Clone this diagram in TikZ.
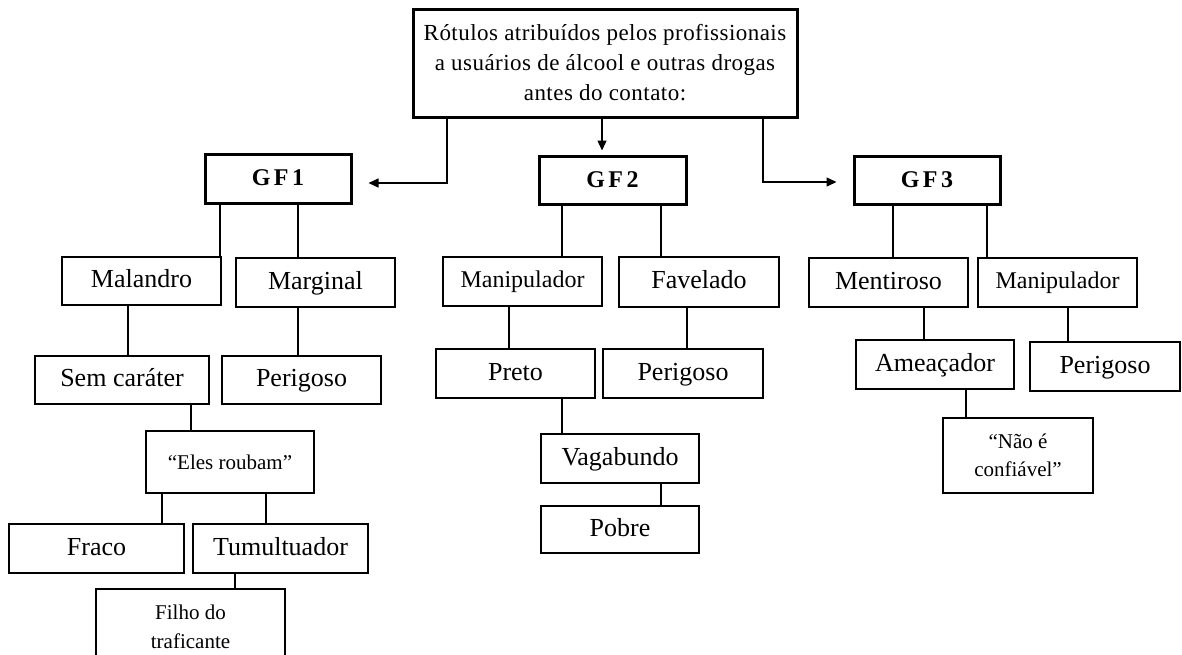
\documentclass[tikz,border=0pt]{standalone}
\usepackage{fontspec}
\setmainfont{Liberation Serif}
\newfontfamily\gffont[LetterSpace=14]{Liberation Serif}
\newfontfamily\ttlfont[LetterSpace=2]{Liberation Serif}
\usetikzlibrary{arrows.meta}
\begin{document}
\begin{tikzpicture}[x=1pt,y=-1pt,
  box/.style={draw, line width=1.2pt, inner sep=0pt, align=center, font=\fontsize{26}{28}\selectfont},
  one/.style={text height=18pt, text depth=4.5pt},
  thickbox/.style={box, line width=3pt},
  gf/.style={font=\gffont\bfseries\fontsize{24}{28}\selectfont, text height=16pt, text depth=2pt},
  small/.style={font=\fontsize{21}{29}\selectfont},
  mid/.style={font=\fontsize{24}{28}\selectfont, text height=16.5pt, text depth=4pt},
  con/.style={line width=1.3pt},
  arr/.style={con, -{Triangle[length=10pt,width=9pt]}}]
\useasboundingbox (0,0) rectangle (1182,654);

% top
\node[thickbox, minimum width=384pt, minimum height=108pt, font=\ttlfont\fontsize{23}{30}\selectfont] (top) at (605,63)
  {Rótulos atribuídos pelos profissionais\\a usuários de álcool e outras drogas\\antes do contato:};

% groups
\node[thickbox, gf, minimum width=146pt, minimum height=49pt] (gf1) at (278,178.5) {GF1};
\node[thickbox, gf, minimum width=147pt, minimum height=48pt] (gf2) at (612.5,180) {GF2};
\node[thickbox, gf, minimum width=146pt, minimum height=48pt] (gf3) at (927,180) {GF3};

% GF1 tree
\node[box, one, minimum width=159pt, minimum height=48pt] (mal) at (141.5,281) {Malandro};
\node[box, one, minimum width=159pt, minimum height=49pt] (mar) at (315.5,282.5) {Marginal};
\node[box, one, minimum width=174pt, minimum height=48pt] (sem) at (122,380) {Sem caráter};
\node[box, one, minimum width=159pt, minimum height=48pt] (per1) at (301.5,380) {Perigoso};
\node[box, small, minimum width=168pt, minimum height=62pt] (ele) at (230,462) {“Eles roubam”};
\node[box, one, minimum width=175pt, minimum height=49pt] (fra) at (96.5,548.5) {Fraco};
\node[box, one, minimum width=175pt, minimum height=49pt] (tum) at (280.5,548.5) {Tumultuador};
\node[box, small, minimum width=189pt, minimum height=76pt] (fil) at (190.5,627) {Filho do\\traficante};

% GF2 tree
\node[box, mid, minimum width=159pt, minimum height=49pt] (man2) at (522.5,281.5) {Manipulador};
\node[box, one, minimum width=160pt, minimum height=50pt] (fav) at (699,282) {Favelado};
\node[box, one, minimum width=159pt, minimum height=49pt] (pre) at (515.5,373.5) {Preto};
\node[box, one, minimum width=160pt, minimum height=49pt] (per2) at (683,373.5) {Perigoso};
\node[box, one, minimum width=158pt, minimum height=49pt] (vag) at (620,458.5) {Vagabundo};
\node[box, one, minimum width=158pt, minimum height=47pt] (pob) at (620,529.5) {Pobre};

% GF3 tree
\node[box, one, minimum width=159pt, minimum height=49pt] (men) at (888.5,282.5) {Mentiroso};
\node[box, mid, minimum width=159pt, minimum height=49pt] (man3) at (1057.5,282.5) {Manipulador};
\node[box, one, minimum width=158pt, minimum height=49pt] (ame) at (935,364.5) {Ameaçador};
\node[box, one, minimum width=150pt, minimum height=49pt] (per3) at (1105,366.5) {Perigoso};
\node[box, small, minimum width=150pt, minimum height=75pt, font=\fontsize{21}{28}\selectfont] (nao) at (1018,455.5) {“Não é\\confiável”};

% arrows from top
\draw[arr] (top.south -| 447,0) |- ([xshift=16pt,yshift=-4.5pt]gf1.east);
\draw[arr] (top.south -| 602,0) -- ([yshift=4pt]gf2.north -| 602,0);
\draw[arr] (top.south -| 763,0) |- ([xshift=-16pt,yshift=-2pt]gf3.west);

% GF1 connectors
\draw[con] (gf1.south -| 220,0) -- (mal.north -| 220,0);
\draw[con] (gf1.south -| 298,0) -- (mar.north -| 298,0);
\draw[con] (mal.south -| 128,0) -- (sem.north -| 128,0);
\draw[con] (mar.south -| 298,0) -- (per1.north -| 298,0);
\draw[con] (sem.south -| 191,0) -- (ele.north -| 191,0);
\draw[con] (ele.south -| 162,0) -- (fra.north -| 162,0);
\draw[con] (ele.south -| 266,0) -- (tum.north -| 266,0);
\draw[con] (tum.south -| 235,0) -- (fil.north -| 235,0);

% GF2 connectors
\draw[con] (gf2.south -| 562,0) -- (man2.north -| 562,0);
\draw[con] (gf2.south -| 661,0) -- (fav.north -| 661,0);
\draw[con] (man2.south -| 509,0) -- (pre.north -| 509,0);
\draw[con] (fav.south -| 687,0) -- (per2.north -| 687,0);
\draw[con] (pre.south -| 562,0) -- (vag.north -| 562,0);
\draw[con] (vag.south -| 661,0) -- (pob.north -| 661,0);

% GF3 connectors
\draw[con] (gf3.south -| 893,0) -- (men.north -| 893,0);
\draw[con] (gf3.south -| 987,0) -- (man3.north -| 987,0);
\draw[con] (men.south -| 924,0) -- (ame.north -| 924,0);
\draw[con] (man3.south -| 1068,0) -- (per3.north -| 1068,0);
\draw[con] (ame.south -| 966,0) -- (nao.north -| 966,0);
\end{tikzpicture}
\end{document}
